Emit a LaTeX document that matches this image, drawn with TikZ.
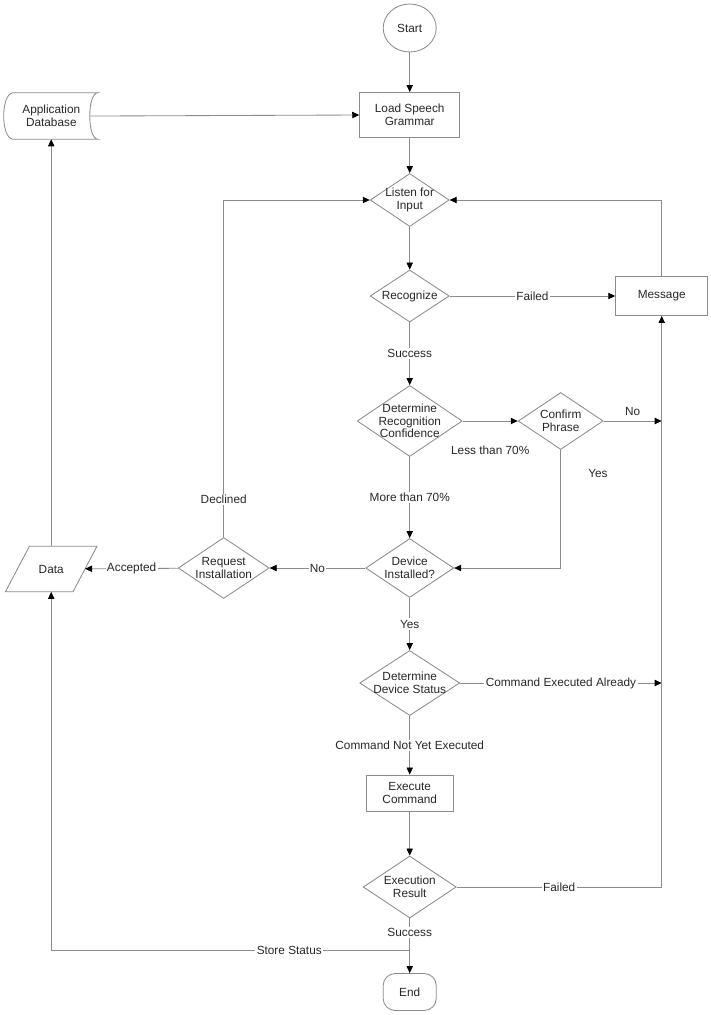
\documentclass[tikz,border=0pt]{standalone}
\usepackage{fontspec}
\setmainfont{Liberation Sans}
\usepackage{xcolor}
\usepackage{tikz}
\usetikzlibrary{arrows.meta,shapes.geometric,positioning}

\definecolor{linegray}{RGB}{140,140,140}
\definecolor{inkgray}{RGB}{40,40,40}
\tikzset{
  every node/.style={font=\fontsize{8.4}{9}\selectfont, text=inkgray},
  flow/.style={draw=linegray, line width=0.6pt},
  arr/.style={flow, -{Triangle[length=5pt,width=4.5pt,color=black]}},
  proc/.style={rectangle, draw=linegray, line width=0.6pt, align=center},
  dec/.style={diamond, draw=linegray, line width=0.6pt, inner sep=0pt, label={[align=center]center:#1}},
  lbl/.style={fill=white, inner sep=1pt},
}

\begin{document}
\begin{tikzpicture}[x=0.025cm, y=-0.025cm]
      \path[fill=white] (0,0) rectangle (710,1015);
      \node[ellipse, draw=linegray, line width=0.6pt, inner sep=0pt, minimum width=1.325cm, minimum height=1.2cm] (start) at (409,28) {Start};
      \node[proc, minimum width=2.5cm, minimum height=1.125cm] (load) at (409,115) {Load Speech\\Grammar};
      \node[minimum width=2.1cm, minimum height=1.15cm, label={[align=center, xshift=-0.11cm]center:Application\\Database}] (appdb) at (55,116) {};
      \draw[flow] (appdb.north west) .. controls ([xshift=-0.325cm]appdb.north west) and ([xshift=-0.325cm]appdb.south west) .. (appdb.south west) -- (appdb.south east) .. controls ([xshift=-0.275cm]appdb.south east) and ([xshift=-0.275cm]appdb.north east) .. (appdb.north east) -- cycle;
      \node[dec={Listen for\\Input}, minimum width=1.975cm, minimum height=1.325cm] (listen) at (409,200) {};
      \node[dec={Recognize}, minimum width=1.975cm, minimum height=1.3cm] (rec) at (409,296) {};
      \node[proc, minimum width=2.3cm, minimum height=0.975cm] (msg) at (661,296) {Message};
      \node[dec={Determine\\Recognition\\Confidence}, minimum width=2.625cm, minimum height=1.775cm] (drc) at (409,421) {};
      \node[dec={Confirm\\Phrase}, minimum width=2.125cm, minimum height=1.425cm] (conf) at (560,421) {};
      \node[dec={Device\\Installed?}, minimum width=2.2cm, minimum height=1.475cm] (devi) at (409,568) {};
      \node[dec={Request\\Installation}, minimum width=2.275cm, minimum height=1.525cm] (reqi) at (223,568) {};
      \node[minimum width=1.675cm, minimum height=1.125cm] (data) at (50.5,569) {Data};
      \draw[flow] ([xshift=0.3cm]data.north west) -- ([xshift=0.3cm]data.north east) -- ([xshift=-0.3cm]data.south east) -- ([xshift=-0.3cm]data.south west) -- cycle;
      \node[dec={Determine\\Device Status}, minimum width=2.5cm, minimum height=1.625cm] (dds) at (409,683) {};
      \node[proc, minimum width=2.175cm, minimum height=0.9cm] (exec) at (409,793) {Execute\\Command};
      \node[dec={Execution\\Result}, minimum width=2.325cm, minimum height=1.55cm] (exres) at (409,887) {};
      \node[rectangle, rounded corners=0.3cm, draw=linegray, line width=0.6pt, minimum width=1.325cm, minimum height=0.925cm] (fin) at (409,992) {End};

      \coordinate (noend) at (msg.south |- conf.east);
      \coordinate (cmdend) at (msg.south |- dds.east);
      \coordinate (sst) at (409,950);

      \draw[arr] (start) -- (load);
      \draw[arr, shorten <=-0.2cm] (appdb.east) -- (load.west);
      \draw[arr] (load) -- (listen);
      \draw[arr] (listen) -- (rec);
      \draw[arr] (rec) -- node[lbl]{Failed} (msg);
      \draw[arr] (rec) -- node[lbl]{Success} (drc);
      \draw[arr] (drc) -- node[below=14pt]{Less than 70\%} (conf);
      \draw[arr] (conf.east) -- node[above]{No} (noend);
      \draw[arr] (conf.south) |- node[pos=0.1, right=16pt]{Yes} (devi.east);
      \draw[arr] (drc) -- node[lbl]{More than 70\%} (devi);
      \draw[arr] (devi) -- node[lbl]{No} (reqi);
      \draw[arr] (reqi) -- node[lbl]{Accepted} (data);
      \draw[arr] (reqi.north) |- node[lbl, pos=0.056]{Declined} (listen.west);
      \draw[arr] (msg.north) |- (listen.east);
      \draw[arr] (devi) -- node[lbl]{Yes} (dds);
      \draw[arr] (dds.east) -- node[lbl]{Command Executed Already} (cmdend);
      \draw[arr] (dds) -- node[lbl]{Command Not Yet Executed} (exec);
      \draw[arr] (exec) -- (exres);
      \draw[arr] (exres.east) -| node[lbl, pos=0.25]{Failed} (msg.south);
      \draw[arr] (exres) -- node[lbl, pos=0.25]{Success} (fin);
      \draw[arr] (sst) -| node[lbl, pos=0.168]{Store Status} (data.south);
      \draw[arr] (data.north) -- (data.north |- appdb.south);
    \end{tikzpicture}
\end{document}
